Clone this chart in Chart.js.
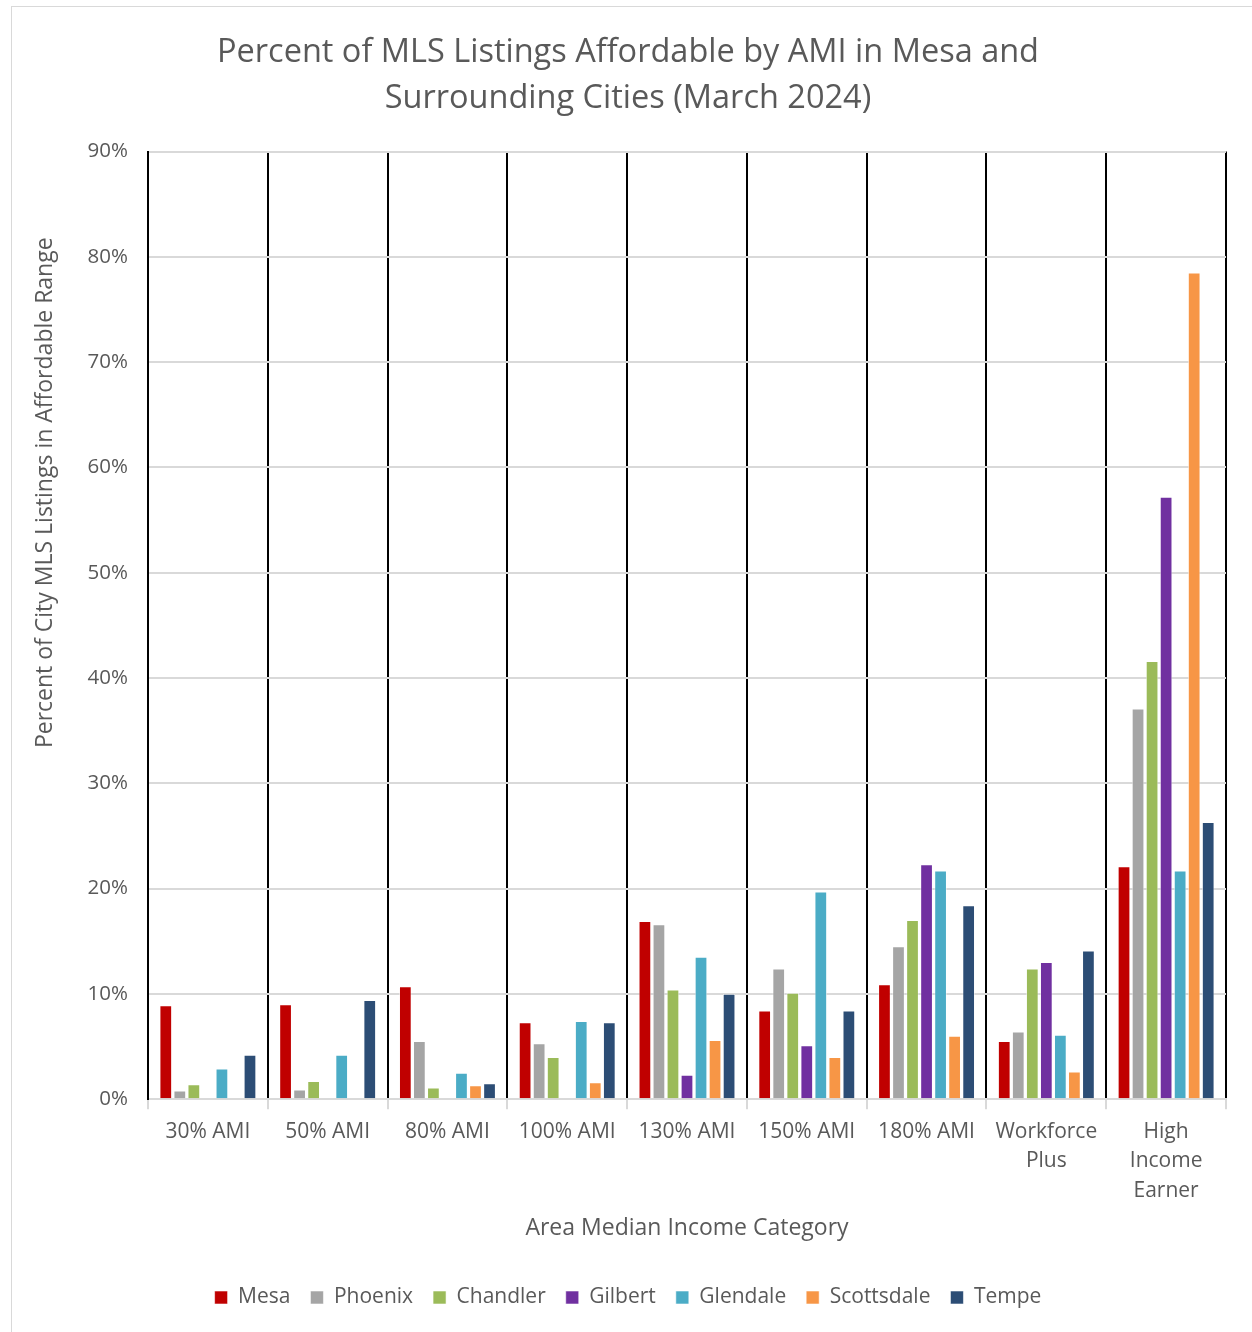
<!DOCTYPE html>
<html>
<head>
<meta charset="utf-8">
<script src="https://cdn.jsdelivr.net/npm/chart.js@4.4.1/dist/chart.umd.min.js"></script>
<style>
  html, body { margin: 0; padding: 0; background: #fff; }
  #frame {
    position: absolute; left: 11px; top: 6px; width: 1250px; height: 1330px;
    border-left: 1px solid #d9d9d9; border-top: 1px solid #d9d9d9; box-sizing: border-box;
  }
  #wrap { position: absolute; left: 12px; top: 7px; width: 1240px; height: 1325px; }
</style>
</head>
<body>
<div id="frame"></div>
<div id="wrap"><canvas id="amiChart"></canvas></div>
<script>
// Categories and series (percent of city MLS listings)
const categories = ['30% AMI', '50% AMI', '80% AMI', '100% AMI', '130% AMI', '150% AMI', '180% AMI', ['Workforce', 'Plus'], ['High', 'Income', 'Earner']];
const cities = ['Mesa', 'Phoenix', 'Chandler', 'Gilbert', 'Glendale', 'Scottsdale', 'Tempe'];
const mesa       = [8.9, 9.0, 10.7, 7.3, 16.9, 8.4, 10.9, 5.5, 22.1];
const phoenix    = [0.8, 0.9, 5.5, 5.3, 16.6, 12.4, 14.5, 6.4, 37.1];
const chandler   = [1.4, 1.7, 1.1, 4.0, 10.4, 10.1, 17.0, 12.4, 41.6];
const gilbert    = [0, 0, 0, 0, 2.3, 5.1, 22.3, 13.0, 57.2];
const glendale   = [2.9, 4.2, 2.5, 7.4, 13.5, 19.7, 21.7, 6.1, 21.7];
const scottsdale = [0, 0.1, 1.3, 1.6, 5.6, 4.0, 6.0, 2.6, 78.5];
const tempe      = [4.2, 9.4, 1.5, 7.3, 10.0, 8.4, 18.4, 14.1, 26.3];
const yTicks = [0, 10, 20, 30, 40, 50, 60, 70, 80, 90];

const seriesValues = [mesa, phoenix, chandler, gilbert, glendale, scottsdale, tempe];
const colors = ['#c00000', '#a5a5a5', '#9bbb59', '#7030a0', '#4bacc6', '#f79646', '#2c4d75'];

const FONT = "'Open Sans', 'Liberation Sans', sans-serif";
const TEXT = '#595959';
const Y_TITLE = 'Percent of City MLS Listings in Affordable Range';

// y axis title sits above the middle of the axis, like the Excel original
const yTitlePlugin = {
    id: 'yTitle',
    afterDraw(chart) {
        const { ctx, chartArea } = chart;
        const cy = chartArea.top + (chartArea.bottom - chartArea.top) * 0.36;
        ctx.save();
        ctx.translate(33, cy);
        ctx.rotate(-Math.PI / 2);
        ctx.fillStyle = TEXT;
        ctx.font = "23px " + FONT;
        ctx.textAlign = 'center';
        ctx.textBaseline = 'middle';
        ctx.fillText(Y_TITLE, 0, 0);
        ctx.restore();
    }
};

const ctx = document.getElementById('amiChart').getContext('2d');
const amiChart = new Chart(ctx, {
    type: 'bar',
    data: {
        labels: categories,
        datasets: cities.map((name, i) => ({
            label: name,
            data: seriesValues[i],
            backgroundColor: colors[i],
            borderColor: 'rgba(255,255,255,0.7)',
            borderWidth: 0.8,
            categoryPercentage: 0.82,
            barPercentage: 0.88
        }))
    },
    plugins: [yTitlePlugin],
    options: {
        responsive: true,
        maintainAspectRatio: false,
        animation: false,
        layout: { padding: { left: 18, right: 26, top: 22, bottom: 14 } },
        plugins: {
            title: {
                display: true,
                text: ['Percent of MLS Listings Affordable by AMI in Mesa and', 'Surrounding Cities (March 2024)'],
                color: TEXT,
                font: { family: FONT, size: 32.5, weight: 'normal', lineHeight: 1.44 },
                padding: { top: 0, bottom: 29 }
            },
            legend: {
                position: 'bottom',
                labels: {
                    color: TEXT,
                    font: { family: FONT, size: 21 },
                    boxWidth: 13,
                    boxHeight: 13,
                    padding: 20
                }
            },
            tooltip: { enabled: false }
        },
        scales: {
            x: {
                offset: true,
                grid: {
                    offset: true,
                    color: '#000000',
                    lineWidth: 2,
                    tickColor: '#d9d9d9',
                    tickLength: 10,
                    drawOnChartArea: true
                },
                border: { color: '#d9d9d9', width: 2 },
                ticks: {
                    color: TEXT,
                    font: { family: FONT, size: 21, lineHeight: 1.4 },
                    maxRotation: 0,
                    autoSkip: false,
                    padding: 8
                },
                title: {
                    display: true,
                    text: 'Area Median Income Category',
                    color: TEXT,
                    font: { family: FONT, size: 23 },
                    padding: { top: 1, bottom: 25 }
                }
            },
            y: {
                min: 0,
                max: 90,
                afterBuildTicks: (axis) => { axis.ticks = yTicks.map(v => ({ value: v })); },
                grid: { color: '#d9d9d9', lineWidth: 2, drawTicks: false },
                border: { color: '#000000', width: 2 },
                ticks: {
                    color: TEXT,
                    font: { family: FONT, size: 20.5 },
                    padding: 20,
                    callback: v => v + '%'
                },
                title: {
                    // space kept for the title drawn by yTitlePlugin
                    display: true,
                    text: Y_TITLE,
                    color: 'rgba(0,0,0,0)',
                    font: { family: FONT, size: 23 },
                    padding: { top: 0, bottom: 10 }
                }
            }
        }
    }
});
</script>
</body>
</html>
